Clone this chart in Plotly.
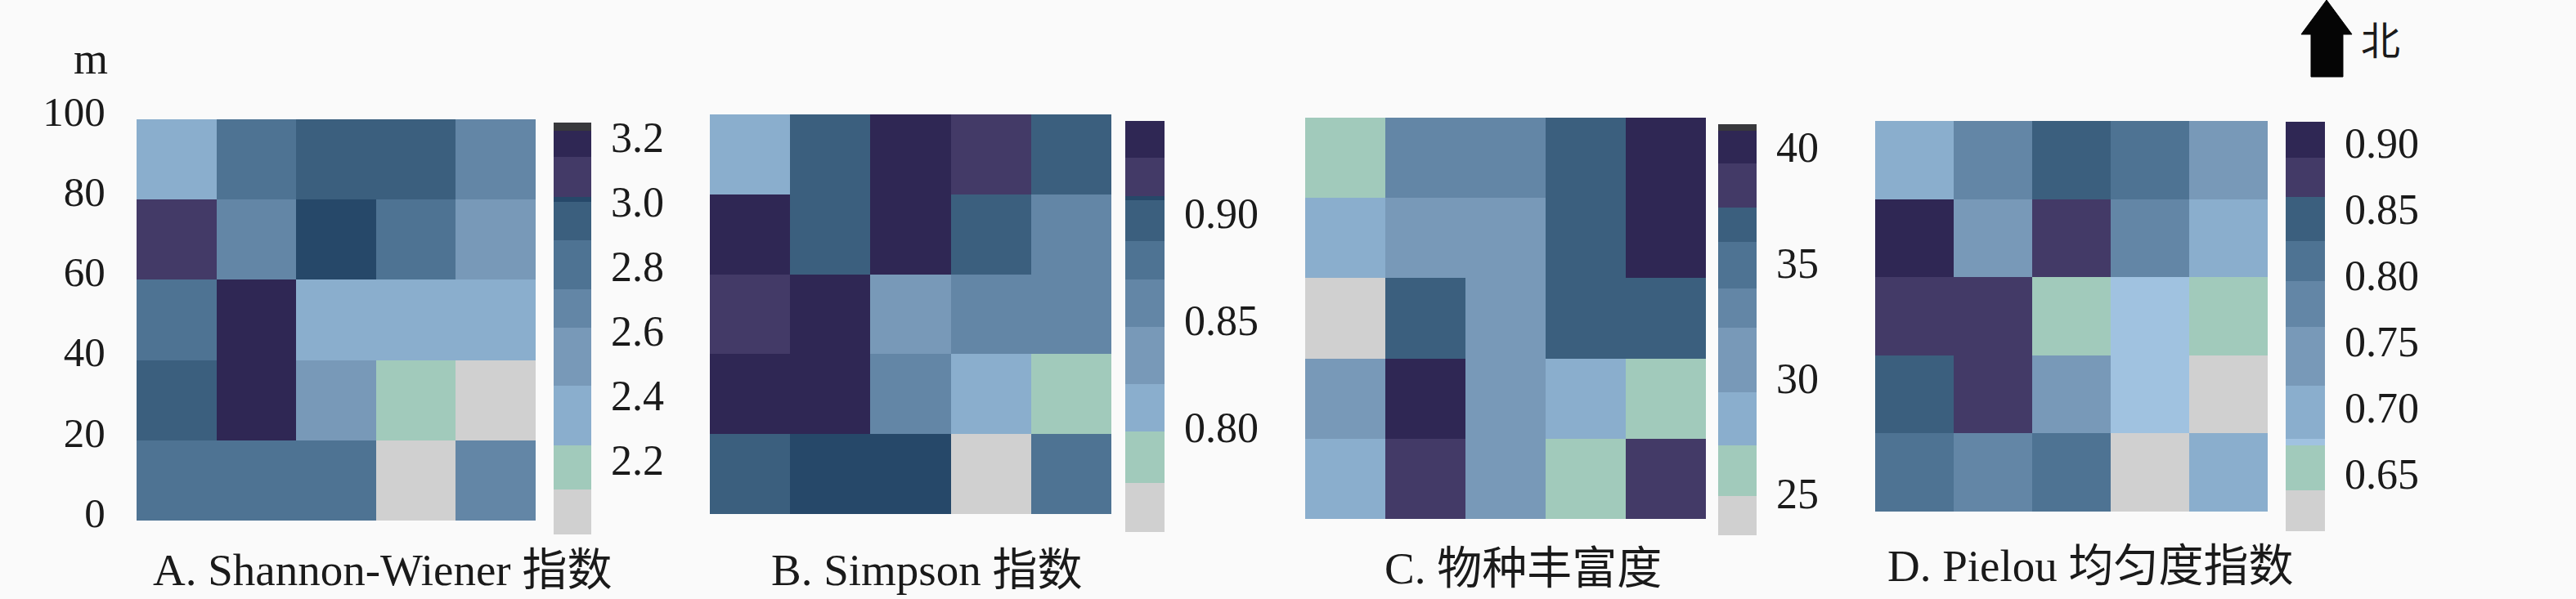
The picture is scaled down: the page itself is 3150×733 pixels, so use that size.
import plotly.graph_objects as go

W, H = 3150, 733
BG = "#fafafa"
FONT = "Liberation Serif, Times New Roman, Noto Sans CJK SC"

# Cell values, rows listed from north (80-100 m) to south (0-20 m)
shannon = [
    [2.34, 2.80, 2.94, 2.94, 2.67],
    [3.08, 2.67, 3.01, 2.80, 2.52],
    [2.80, 3.18, 2.34, 2.34, 2.34],
    [2.94, 3.18, 2.52, 2.18, 2.05],
    [2.80, 2.80, 2.80, 2.05, 2.67],
]
simpson = [
    [0.809, 0.897, 0.935, 0.917, 0.897],
    [0.935, 0.897, 0.935, 0.897, 0.858],
    [0.917, 0.935, 0.833, 0.858, 0.858],
    [0.935, 0.935, 0.858, 0.809, 0.786],
    [0.897, 0.907, 0.907, 0.762, 0.878],
]
richness = [
    [26, 33, 33, 37, 40],
    [28, 31, 31, 37, 40],
    [24, 37, 31, 37, 37],
    [31, 40, 31, 28, 26],
    [28, 38, 31, 26, 38],
]
pielou = [
    [0.695, 0.778, 0.842, 0.810, 0.740],
    [0.900, 0.740, 0.874, 0.778, 0.695],
    [0.874, 0.874, 0.655, 0.675, 0.655],
    [0.842, 0.874, 0.740, 0.675, 0.620],
    [0.810, 0.778, 0.810, 0.620, 0.695],
]

# Legend class limits, low to high, and the colour of each class
shannon_edges = [1.97, 2.11, 2.245, 2.43, 2.61, 2.73, 2.88, 3.0, 3.015, 3.14, 3.22, 3.245]
shannon_cols = ["#d0d0d0", "#a1cabb", "#8aaecd", "#7899b8", "#6386a6", "#4e7393", "#3b5f7e", "#264869", "#433a67", "#2f2754", "#38383c"]
simpson_edges = [0.751, 0.774, 0.798, 0.82, 0.847, 0.869, 0.887, 0.906, 0.908, 0.926, 0.943]
simpson_cols = ["#d0d0d0", "#a1cabb", "#8aaecd", "#7899b8", "#6386a6", "#4e7393", "#3b5f7e", "#264869", "#433a67", "#2f2754"]
richness_edges = [23.2, 24.9, 27.1, 29.4, 32.2, 33.9, 35.9, 37.4, 39.3, 40.7, 41.0]
richness_cols = ["#d0d0d0", "#a1cabb", "#8aaecd", "#7899b8", "#6386a6", "#4e7393", "#3b5f7e", "#433a67", "#2f2754", "#38383c"]
pielou_edges = [0.607, 0.638, 0.672, 0.677, 0.717, 0.761, 0.796, 0.826, 0.859, 0.889, 0.916]
pielou_cols = ["#d0d0d0", "#a1cabb", "#a0c2e0", "#8aaecd", "#7899b8", "#6386a6", "#4e7393", "#3b5f7e", "#433a67", "#2f2754"]

shannon_ticks = [2.2, 2.4, 2.6, 2.8, 3.0, 3.2]
simpson_ticks = [0.80, 0.85, 0.90]
richness_ticks = [25, 30, 35, 40]
pielou_ticks = [0.65, 0.70, 0.75, 0.80, 0.85, 0.90]

titles = ["A. Shannon-Wiener 指数", "B. Simpson 指数", "C. 物种丰富度", "D. Pielou 均匀度指数"]
x_edges = [0, 20, 40, 60, 80, 100]
y_edges = [0, 20, 40, 60, 80, 100]
y_labels = [0, 20, 40, 60, 80, 100]

panels = [
    dict(z=shannon, edges=shannon_edges, cols=shannon_cols, ticks=shannon_ticks, fmt=".1f",
         box=(167, 655, 146, 637), bar=(677, 723, 150, 654), title_at=(467, 697)),
    dict(z=simpson, edges=simpson_edges, cols=simpson_cols, ticks=simpson_ticks, fmt=".2f",
         box=(868, 1359, 140, 629), bar=(1376, 1424, 148, 651), title_at=(1133, 697)),
    dict(z=richness, edges=richness_edges, cols=richness_cols, ticks=richness_ticks, fmt="d",
         box=(1596, 2086, 144, 635), bar=(2101, 2148, 152, 655), title_at=(1862, 695)),
    dict(z=pielou, edges=pielou_edges, cols=pielou_cols, ticks=pielou_ticks, fmt=".2f",
         box=(2293, 2773, 148, 626), bar=(2795, 2843, 149, 650), title_at=(2556, 692)),
]


def stepped(edges, cols):
    lo, hi = edges[0], edges[-1]
    scale = []
    for i, c in enumerate(cols):
        scale.append([(edges[i] - lo) / (hi - lo), c])
        scale.append([(edges[i + 1] - lo) / (hi - lo), c])
    return scale


fig = go.Figure()
layout = dict(
    width=W, height=H, autosize=False,
    margin=dict(l=0, r=0, t=0, b=0, autoexpand=False),
    paper_bgcolor=BG, plot_bgcolor=BG,
    font=dict(family=FONT, size=50, color="#1a1a1a"),
    showlegend=False,
)
annotations = []
for i, p in enumerate(panels):
    n = "" if i == 0 else str(i + 1)
    x0, x1, y0, y1 = p["box"]
    bx0, bx1, by0, by1 = p["bar"]
    edges = p["edges"]
    fig.add_trace(go.Heatmap(
        z=p["z"][::-1], x=x_edges, y=y_edges,
        zmin=edges[0], zmax=edges[-1],
        colorscale=stepped(edges, p["cols"]),
        xgap=0, ygap=0, hoverinfo="skip",
        xaxis="x" + n, yaxis="y" + n,
        colorbar=dict(
            x=bx0 / W, xanchor="left", y=1 - by1 / H, yanchor="bottom",
            len=by1 - by0, lenmode="pixels", thickness=bx1 - bx0, thicknessmode="pixels",
            xpad=0, ypad=0, outlinewidth=0, borderwidth=0,
            tickmode="array", tickvals=p["ticks"],
            ticktext=[format(t, p["fmt"]) for t in p["ticks"]],
            ticks="outside", ticklen=14, tickcolor="rgba(0,0,0,0)",
            tickfont=dict(family=FONT, size=52, color="#1a1a1a"),
        ),
    ))
    layout["xaxis" + n] = dict(domain=[x0 / W, x1 / W], range=[0, 100], showticklabels=False,
                               ticks="", showgrid=False, zeroline=False,
                               anchor="y" + n)
    yax = dict(domain=[1 - y1 / H, 1 - y0 / H], range=[0, 100], showgrid=False, zeroline=False,
               anchor="x" + n)
    if i == 0:
        yax.update(tickmode="array", tickvals=y_labels, ticktext=[str(v) for v in y_labels],
                   ticks="outside", ticklen=27, tickcolor="rgba(0,0,0,0)",
                   ticklabelshift=-10, tickfont=dict(family=FONT, size=51, color="#1a1a1a"))
    else:
        yax.update(showticklabels=False, ticks="")
    layout["yaxis" + n] = yax
    annotations.append(dict(text=titles[i], x=p["title_at"][0] / W, y=1 - p["title_at"][1] / H,
                            xref="paper", yref="paper", xanchor="center", yanchor="middle",
                            showarrow=False, font=dict(family=FONT, size=55, color="#1a1a1a")))

annotations.append(dict(text="m", x=134 / W, y=1 - 72 / H, xref="paper", yref="paper",
                        xanchor="right", yanchor="middle", showarrow=False,
                        font=dict(family=FONT, size=54, color="#1a1a1a")))
annotations.append(dict(text="北", x=2911 / W, y=1 - 50 / H, xref="paper", yref="paper",
                        xanchor="center", yanchor="middle", showarrow=False,
                        font=dict(family=FONT, size=48, color="#1a1a1a")))
layout["annotations"] = annotations

# North arrow
arrow_px = [(2845, 0), (2876, 42), (2865, 42), (2865, 94), (2826, 94), (2826, 42), (2814, 42)]
arrow_path = "M " + " L ".join(f"{px / W:.5f},{1 - py / H:.5f}" for px, py in arrow_px) + " Z"
layout["shapes"] = [dict(type="path", path=arrow_path, xref="paper", yref="paper",
                         fillcolor="#050505", line=dict(color="#050505", width=1))]

fig.update_layout(**layout)
fig.write_html("out.html", config={"displayModeBar": False},
               post_script="document.body.style.margin='0';document.body.style.background='#fafafa';document.body.style.overflow='hidden';")
